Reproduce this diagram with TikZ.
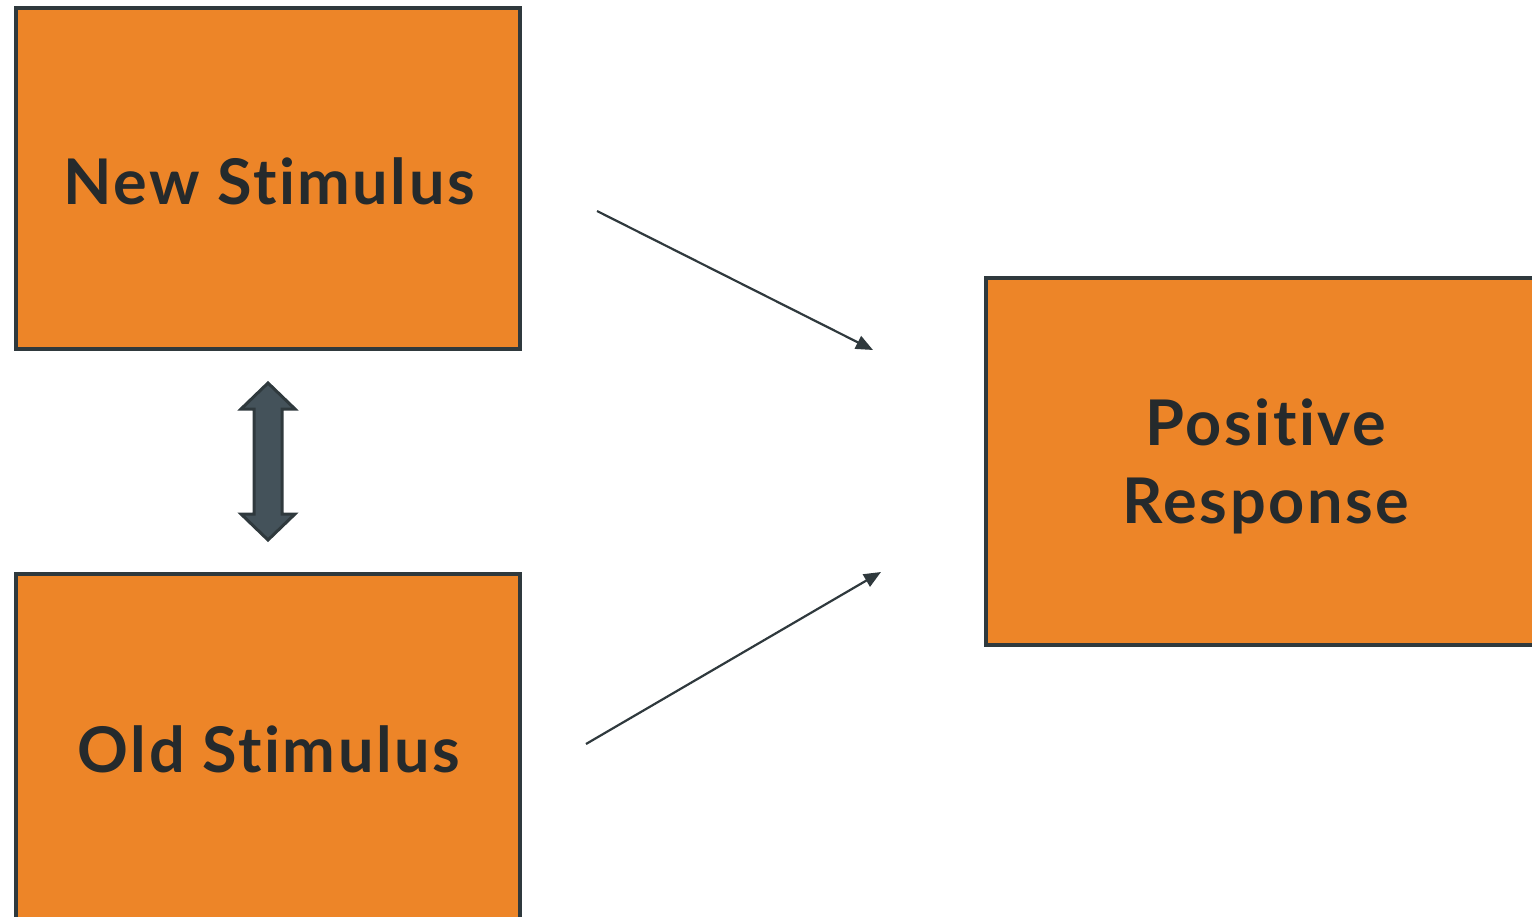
\documentclass[tikz,border=0pt]{standalone}
\usepackage{fontspec}
\setmainfont[Ligatures=NoCommon,LetterSpace=4]{Lato}
\usetikzlibrary{arrows.meta}
\definecolor{boxfill}{HTML}{ED8528}
\definecolor{boxline}{HTML}{2F393D}
\definecolor{txt}{HTML}{252A2C}
\definecolor{dafill}{HTML}{44525A}
\begin{document}
\begin{tikzpicture}[x=1pt,y=-1pt,
  box/.style={draw=boxline,line width=3.5pt,fill=boxfill,rectangle,inner sep=0pt},
  lbl/.style={text=txt,font=\fontsize{63}{78}\selectfont\bfseries,align=center,inner sep=0pt},
  conn/.style={draw=boxline,line width=2.2pt,-{Triangle[length=17pt,width=14pt]}}]
\useasboundingbox (0,0) rectangle (1532,917);
\begin{scope}
\clip (0,0) rectangle (1532,917);
\node[box,minimum width=504pt,minimum height=341pt] (new) at (268,178.5) {};
\node[box,minimum width=504pt,minimum height=352pt] (old) at (268,750) {};
\node[box,minimum width=560pt,minimum height=367pt] (pos) at (1266,461.5) {};
\end{scope}
\node[lbl] (tnew) at (269,181) {New Stimulus};
\node[lbl] (told) at (269,749) {Old Stimulus};
\node[lbl] (tpos) at (1266,466) {Positive\\Response};
\coordinate (a1s) at (597,211);
\coordinate (a1e) at (873,350);
\coordinate (a2s) at (586,744);
\coordinate (a2e) at (881,572);
\draw[conn] (a1s) -- (a1e);
\draw[conn] (a2s) -- (a2e);
\draw[draw=boxline,fill=dafill,line width=3pt,line join=miter]
  (268,383) -- (295,409) -- (282,409) -- (282,514) -- (295,514) -- (268,540)
  -- (241,514) -- (254,514) -- (254,409) -- (241,409) -- cycle;
\end{tikzpicture}
\end{document}
